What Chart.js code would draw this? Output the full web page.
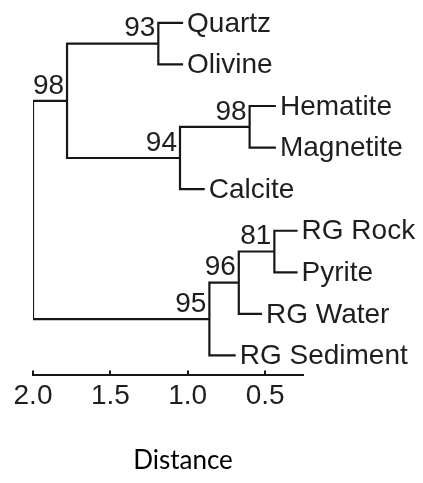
<!DOCTYPE html>
<html>
<head>
<meta charset="utf-8">
<script src="https://cdn.jsdelivr.net/npm/chart.js@4/dist/chart.umd.min.js"></script>
<style>
  body { margin: 0; background: #fff; }
  #wrap { width: 423px; height: 483px; position: relative; }
</style>
</head>
<body>
<div id="wrap"><canvas id="treeChart"></canvas></div>
<script>
// leaves, top to bottom
const leafNames = ["Quartz", "Olivine", "Hematite", "Magnetite", "Calcite", "RG Rock", "Pyrite", "RG Water", "RG Sediment"];
const leafDistance = [1.03, 1.03, 0.43, 0.43, 0.89, 0.29, 0.29, 0.52, 0.69];

// internal nodes get ids 9.. in this order; children refer to leaf / node ids
const nodeChildren = [[0, 1], [2, 3], [10, 4], [9, 11], [5, 6], [13, 7], [14, 8], [12, 15]];
const nodeDistance = [1.19, 0.6, 1.05, 1.78, 0.44, 0.67, 0.86, 2.0];
const nodeSupport = [93, 98, 94, 98, 81, 96, 95, null];

const tickValues = [2.0, 1.5, 1.0, 0.5];
const axisTitle = "Distance";

const lineColor = "#161616";
const sansFamily = "'Liberation Sans', Arial, Helvetica, sans-serif";
const textFont = "28px " + sansFamily;

// position (distance, row) of every id
const pos = [];
leafNames.forEach((n, i) => (pos[i] = { x: leafDistance[i], y: i }));
nodeChildren.forEach((kids, k) => {
  const a = pos[kids[0]];
  const b = pos[kids[1]];
  pos[leafNames.length + k] = { x: nodeDistance[k], y: (a.y + b.y) / 2 };
});

// one elbow per internal node
const datasets = nodeChildren.map((kids, k) => {
  const n = pos[leafNames.length + k];
  const a = pos[kids[0]];
  const b = pos[kids[1]];
  return {
    data: [
      { x: a.x, y: a.y },
      { x: n.x, y: a.y },
      { x: n.x, y: b.y },
      { x: b.x, y: b.y },
    ],
    showLine: true,
    borderColor: lineColor,
    borderWidth: 2.2,
    pointRadius: 0,
    tension: 0,
    borderJoinStyle: "miter",
  };
});

const labelPlugin = {
  id: "treeLabels",
  afterDraw(chart) {
    const ctx = chart.ctx;
    const xs = chart.scales.x;
    const ys = chart.scales.y;
    ctx.save();
    ctx.fillStyle = "#1e1e1e";
    ctx.font = textFont;
    ctx.textBaseline = "middle";

    // leaf names
    ctx.textAlign = "left";
    leafNames.forEach((name, i) => {
      ctx.fillText(name, xs.getPixelForValue(pos[i].x) + 4, ys.getPixelForValue(pos[i].y) + 1);
    });

    // support values, left of node, above incoming branch
    ctx.textAlign = "right";
    nodeSupport.forEach((s, k) => {
      if (s == null) return;
      const n = pos[leafNames.length + k];
      ctx.fillText(String(s), xs.getPixelForValue(n.x) - 3, ys.getPixelForValue(n.y) - 15);
    });

    // tick marks pointing up
    ctx.strokeStyle = lineColor;
    ctx.lineWidth = 2;
    const bottom = chart.chartArea.bottom;
    tickValues.forEach((t) => {
      const px = Math.round(xs.getPixelForValue(t));
      ctx.beginPath();
      ctx.moveTo(px, bottom);
      ctx.lineTo(px, bottom - 5);
      ctx.stroke();
    });

    // axis title
    ctx.font = "26px Lato, 'Open Sans', sans-serif";
    ctx.fillStyle = "#000";
    ctx.textAlign = "center";
    ctx.fillText(axisTitle, (chart.chartArea.left + chart.chartArea.right) / 2 + 15, 461);
    ctx.restore();
  },
};

new Chart(document.getElementById("treeChart"), {
  type: "scatter",
  data: { datasets },
  options: {
    responsive: true,
    maintainAspectRatio: false,
    animation: false,
    layout: { padding: { left: 33, right: 120, top: 0, bottom: 66 } },
    plugins: { legend: { display: false }, tooltip: { enabled: false } },
    scales: {
      x: {
        type: "linear",
        reverse: true,
        min: 0.255,
        max: 2.0,
        afterBuildTicks: (axis) => {
          axis.ticks = tickValues.map((v) => ({ value: v }));
        },
        border: { display: true, color: lineColor, width: 2 },
        grid: { display: false, drawTicks: false },
        ticks: {
          padding: 4,
          color: "#1e1e1e",
          font: { family: sansFamily, size: 28 },
          callback: (v) => Number(v).toFixed(1),
          maxRotation: 0,
          autoSkip: false,
        },
      },
      y: {
        type: "linear",
        reverse: true,
        min: -0.55,
        max: 8.48,
        display: false,
      },
    },
  },
  plugins: [labelPlugin],
});
</script>
</body>
</html>
